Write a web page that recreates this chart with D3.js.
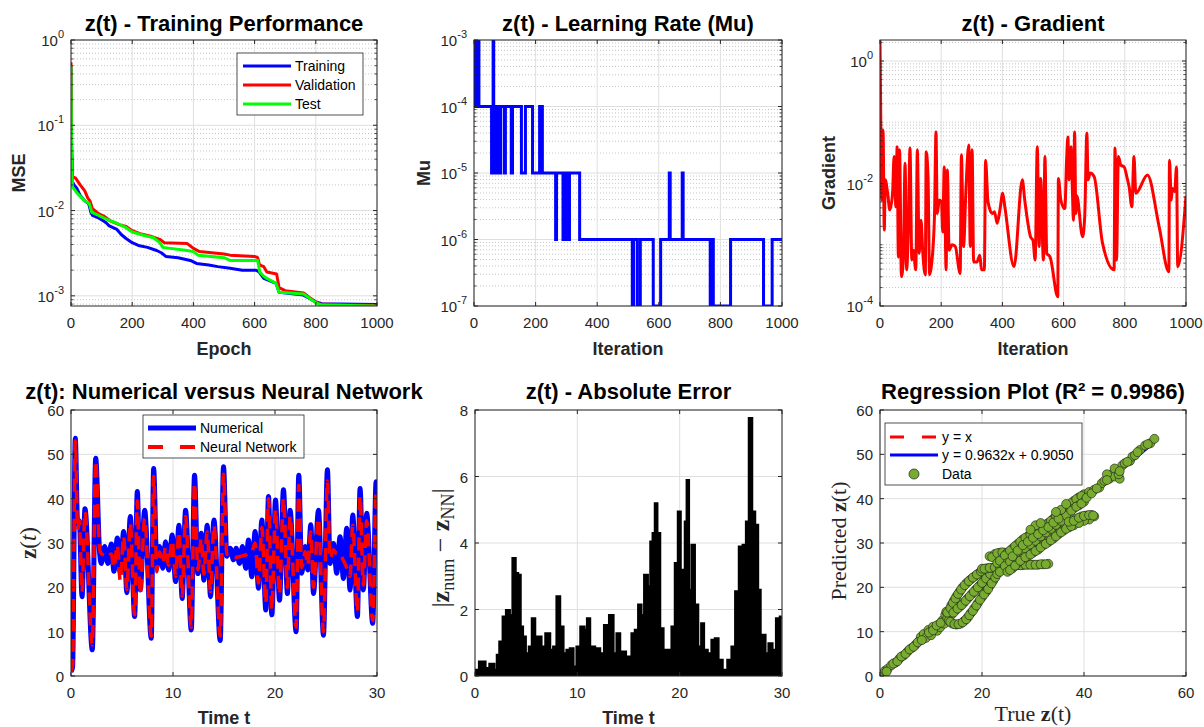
<!DOCTYPE html>
<html>
<head>
<meta charset="utf-8">
<script src="https://cdn.jsdelivr.net/npm/d3@7"></script>
<style>
  body { margin: 0; background: #fff; }
  svg { display: block; font-family: "Liberation Sans", Arial, Helvetica, sans-serif; }
</style>
</head>
<body>
<script>
// ---------- data ----------
// training performance (epoch, MSE)
const mseTraining = [[0,0.5],[2,0.05],[4,0.022],[10,0.02],[20,0.018],[30,0.015],[45,0.013],[58,0.012],[65,0.0095],[70,0.0088],[90,0.0082],[100,0.0078],[115,0.0072],[125,0.0066],[150,0.006],[165,0.0052],[180,0.0047],[200,0.0042],[220,0.0039],[250,0.0037],[280,0.0034],[295,0.0032],[310,0.0029],[350,0.0028],[390,0.0026],[410,0.0024],[450,0.0023],[480,0.0022],[520,0.0021],[560,0.002],[605,0.002],[615,0.0019],[630,0.0016],[670,0.0014],[680,0.0011],[760,0.00102],[800,0.00085],[820,0.00081],[1000,0.00079]];
const mseValidation = [[0,0.55],[2,0.06],[5,0.025],[15,0.024],[30,0.02],[45,0.017],[55,0.014],[62,0.013],[70,0.0105],[90,0.0092],[110,0.0085],[130,0.0075],[160,0.0068],[180,0.0065],[200,0.0058],[230,0.0053],[260,0.005],[290,0.0046],[305,0.0042],[380,0.0041],[400,0.0036],[420,0.0033],[500,0.0031],[520,0.003],[600,0.0029],[610,0.0028],[616,0.0023],[630,0.0022],[640,0.0019],[672,0.0018],[680,0.00125],[700,0.00115],[760,0.00108],[780,0.00095],[810,0.0008],[1000,0.00077]];
const mseTest = [[0,0.5],[2,0.04],[5,0.019],[20,0.016],[45,0.013],[60,0.012],[68,0.0095],[90,0.0088],[120,0.0078],[150,0.0071],[180,0.0063],[200,0.0056],[240,0.0051],[270,0.0048],[290,0.0042],[300,0.0037],[380,0.0034],[400,0.0033],[415,0.003],[500,0.0028],[520,0.0026],[610,0.0026],[617,0.0019],[630,0.0017],[640,0.0016],[670,0.0014],[680,0.0011],[760,0.00105],[800,0.00083],[820,0.00078],[1000,0.00076]];

// learning rate mu (iteration where value starts, value)
const muSteps = [[0,1e-4],[2,1e-3],[4,1e-4],[5,1e-3],[8,1e-4],[9,1e-3],[12,1e-4],[13,1e-3],[16,1e-4],[57,1e-5],[60,1e-4],[62,1e-3],[64,1e-4],[66,1e-5],[69,1e-4],[72,1e-5],[76,1e-4],[79,1e-5],[83,1e-4],[85,1e-5],[87,1e-4],[99,1e-5],[102,1e-4],[121,1e-5],[125,1e-4],[154,1e-5],[167,1e-4],[190,1e-5],[213,1e-4],[216,1e-5],[218,1e-4],[222,1e-5],[265,1e-6],[268,1e-5],[289,1e-6],[293,1e-5],[300,1e-6],[303,1e-5],[307,1e-6],[310,1e-5],[343,1e-6],[514,1e-7],[518,1e-6],[530,1e-7],[540,1e-6],[582,1e-7],[606,1e-6],[634,1e-5],[637,1e-6],[676,1e-5],[679,1e-6],[767,1e-7],[770,1e-6],[772,1e-7],[775,1e-6],[777,1e-7],[833,1e-6],[940,1e-7],[968,1e-6],[1000,1e-6]];

// gradient (iteration, log10 of gradient)
const gradientExp = [[0,0.34],[3,-1.18],[6,-2.27],[10,-1.13],[14,-2.76],[17,-1.94],[25,-2.16],[32,-2.43],[41,-2.16],[46,-1.56],[52,-2.38],[56,-1.4],[60,-3.2],[64,-1.45],[70,-3.52],[76,-3.25],[82,-1.67],[87,-3.41],[93,-2.65],[98,-1.42],[104,-3.25],[109,-3.09],[117,-3.41],[122,-1.45],[128,-3.14],[134,-2.6],[140,-3.14],[148,-3.49],[151,-1.48],[157,-1.89],[162,-3.49],[169,-3.3],[178,-2.54],[183,-1.16],[187,-2.49],[194,-2.27],[201,-2.3],[205,-2.79],[210,-1.73],[216,-3.41],[220,-1.78],[226,-3.09],[235,-3.0],[246,-3.03],[262,-3.47],[266,-1.53],[273,-3.03],[281,-2.08],[290,-1.37],[295,-3.03],[301,-1.45],[306,-3.28],[317,-3.28],[326,-3.17],[332,-3.41],[341,-3.41],[345,-1.62],[353,-2.3],[367,-2.49],[374,-2.46],[383,-2.65],[392,-2.43],[401,-2.16],[408,-2.38],[438,-3.36],[465,-1.94],[473,-2.27],[492,-2.87],[500,-2.93],[507,-3.25],[514,-1.4],[520,-3.03],[525,-1.92],[534,-3.25],[539,-1.56],[545,-3.14],[556,-3.2],[581,-3.85],[583,-1.92],[591,-2.27],[604,-2.41],[610,-1.59],[614,-1.24],[618,-1.94],[624,-1.4],[629,-2.16],[632,-2.6],[636,-1.16],[640,-2.49],[643,-2.2],[662,-2.87],[669,-2.54],[676,-1.18],[680,-1.94],[687,-1.83],[700,-1.89],[727,-2.97],[765,-3.41],[768,-1.42],[773,-3.25],[779,-1.56],[787,-1.7],[798,-1.73],[808,-1.92],[814,-2.05],[823,-2.38],[830,-1.56],[836,-2.16],[874,-1.86],[912,-2.7],[944,-3.44],[946,-1.62],[952,-2.27],[955,-2.08],[963,-2.13],[969,-1.73],[973,-3.36],[1000,-2.2]];

// z(t): numerical solution and neural network output (time, z)
const zNumerical = [[0,1],[0.16,2],[0.42,53.6],[0.65,34.4],[0.82,35],[1.08,17.9],[1.37,37.7],[2.09,5.9],[2.42,49.1],[2.81,27.7],[2.97,25.4],[3.3,29.2],[3.62,25.4],[3.95,29.8],[4.21,23.6],[4.54,31.1],[4.83,23.3],[5.16,32.6],[5.48,18.8],[5.81,36],[6.24,13.4],[6.5,41.6],[6.79,19.4],[7.22,37.4],[7.87,8.5],[8.1,46.8],[8.42,24.6],[8.68,29.2],[9.01,24.3],[9.27,30.3],[9.57,23.9],[9.92,31.8],[10.25,21.3],[10.58,34],[10.9,17.5],[11.23,37.4],[11.79,10.4],[12.11,45.3],[12.44,23.1],[12.77,32.2],[13.03,21.6],[13.35,34],[13.68,17.9],[14.01,35.2],[14.63,8],[14.95,47.2],[15.28,27],[15.61,28.8],[15.93,26.2],[16.19,28.8],[16.52,25.4],[16.81,29.2],[17.14,24.3],[17.4,30.7],[17.73,22.4],[18.05,32.6],[18.38,19.8],[18.71,35.2],[19.1,14.9],[19.36,40.5],[19.69,13.8],[20.05,39.7],[20.44,17.1],[20.83,42],[21.22,18.6],[21.48,37.4],[22.07,10],[22.33,45.3],[22.62,23.2],[22.95,29.2],[23.21,23.9],[23.51,34.1],[23.77,18.6],[24.26,37.4],[24.75,9.2],[25.14,46.5],[25.4,25.4],[25.73,29.9],[26.05,23.2],[26.38,31.4],[26.71,22],[27.03,33.3],[27.36,19.4],[27.62,36.3],[28.08,13.4],[28.34,42.3],[28.66,19.4],[28.99,36.7],[29.58,11.9],[29.91,43.8],[30,30]];
const zNeural = [[0,1],[0.16,2.5],[0.42,53],[0.65,33],[0.82,35],[1.08,19],[1.37,37],[2.09,7],[2.42,48.5],[2.81,28.5],[2.97,27.6],[3.3,27.2],[3.62,26.8],[3.95,27.5],[4.21,24.5],[4.54,29.5],[4.83,21.5],[5.16,31.5],[5.48,19.5],[5.81,34.5],[6.24,13.8],[6.5,39.5],[6.79,18.5],[7.22,35.5],[7.87,9],[8.1,45],[8.42,23.5],[8.68,28],[9.01,25.5],[9.27,29],[9.57,25],[9.92,30.5],[10.25,22.5],[10.58,32.5],[10.9,18],[11.23,36],[11.79,11],[12.11,43.5],[12.44,24],[12.77,31],[13.03,23],[13.35,32.5],[13.68,19],[14.01,34],[14.63,9],[14.95,45.5],[15.28,27.5],[15.61,27.2],[15.93,27],[16.19,26.8],[16.52,26.9],[16.81,27.1],[17.14,27.3],[17.4,27.6],[17.73,28],[18.05,30],[18.38,21],[18.71,33.5],[19.1,16.5],[19.36,40],[19.69,15],[20.05,37.5],[20.44,18.5],[20.83,40],[21.22,20],[21.48,36],[22.07,11],[22.33,43],[22.62,24.5],[22.95,28],[23.21,25],[23.51,32.5],[23.77,20],[24.26,35.5],[24.75,10],[25.14,44],[25.4,26.5],[25.73,28.5],[26.05,27.5],[26.38,27.5],[26.71,26],[27.03,24.5],[27.36,22.5],[27.62,34],[28.08,14.5],[28.34,40.5],[28.66,20.5],[28.99,35],[29.58,12.5],[29.91,41.5],[30,28]];

// absolute error envelope (time, |z_num - z_NN|)
const absError = [[0,0.18],[0.81,0.43],[1.21,0.23],[1.63,0.36],[2.12,0.18],[2.18,0.63],[2.61,1.03],[2.83,1.78],[3.26,1.98],[3.52,1.83],[3.84,3.54],[4.07,3.09],[4.33,3.04],[4.56,1.48],[4.79,1.18],[5.11,0.68],[5.44,0.88],[5.7,1.73],[6.03,1.18],[6.35,1.18],[6.61,0.88],[7.17,1.28],[7.49,0.78],[7.82,0.88],[8.14,2.39],[8.47,1.48],[8.79,0.68],[9.12,0.78],[9.45,0.83],[9.77,0.28],[10.1,0.88],[10.52,1.48],[10.85,1.38],[11.07,1.73],[11.4,0.88],[12.05,0.83],[12.38,0.68],[12.87,1.53],[13.36,1.83],[13.68,0.68],[14.01,1.28],[14.33,0.73],[15.15,0.58],[15.47,1.28],[15.8,1.38],[16.12,2.14],[16.38,1.83],[16.71,3.04],[17.04,2.69],[17.26,4.04],[17.49,4.29],[17.69,5.19],[17.92,4.29],[18.24,1.43],[18.57,0.78],[19.06,0.78],[19.38,1.48],[19.71,3.39],[19.97,4.94],[20.2,3.19],[20.42,3.09],[20.62,4.64],[20.78,5.89],[21.01,2.59],[21.34,3.94],[21.6,2.14],[21.99,0.88],[22.25,1.58],[22.48,0.78],[22.96,0.68],[23.29,1.08],[23.62,1.13],[23.94,0.48],[24.43,0.18],[24.92,0.48],[25.24,0.88],[25.64,2.54],[25.96,3.89],[26.38,3.94],[26.61,4.64],[26.94,7.75],[27.2,4.94],[27.52,4.54],[27.78,2.59],[28.01,1.18],[28.24,1.23],[28.5,0.68],[28.89,0.98],[29.22,0.78],[29.64,1.73],[29.97,1.78]];

// regression scatter (true z, predicted z)
const regressionPoints = [[0.6,0.5],[1,1.2],[1.5,1.6],[2.2,2.4],[3,3],[3.8,3.9],[4.6,4.6],[5.4,5.5],[6.2,6.3],[7,7.1],[7.8,8],[8.5,8.4],[9.2,9.4],[10,10],[10.8,10.9],[11.5,11.6],[12.2,12.5],[8,8.8],[8.6,9.5],[9.5,10.4],[10.4,11.1],[11.2,10.2],[9,8.6],[10,9.2],[11.8,11],[12.6,11.8],
[1.3,1.0],[2.6,2.8],[3.4,3.3],[4.2,4.4],[5,5],[5.8,6],[6.6,6.6],[7.4,7.6],[8.2,8.1],[9.6,9.8],[10.4,10.3],[11.1,11.4],[11.9,12],
[12.8,13.8],[13.5,14.8],[14,16],[14.5,17],[15,18],[15.6,19],[16.2,20],[17,21],[17.8,21.8],[18.6,22.5],[19.4,23.2],[13.2,13],[14,13.8],[14.8,14.8],[15.6,15.6],[16.4,16.5],[17.2,17.5],[18,18.5],[18.8,19.5],[19.6,20.5],[20.4,21.5],[21.2,22.5],[22,23.5],[13.5,12.5],[14.2,11.8],[15,11.6],[15.8,11.8],[16.5,12.4],[17.2,13.2],[17.8,14.2],[18.5,15.3],[19.2,16.5],[20,17.8],[20.8,19],[21.5,20.3],[22.2,21.5],[13,14.5],[14,15.5],
[13.2,14.3],[13.8,15.3],[14.3,16.5],[14.8,17.5],[15.3,18.5],[15.9,19.5],[16.6,20.5],[17.4,21.4],[18.2,22.2],[19,22.9],[19.8,23.6],[14.4,14.3],[15.2,15.2],[16,16],[16.8,17],[17.6,18],[18.4,19],[19.2,20],[20,21],[20.8,22],[21.6,23],[13.8,12.2],[14.6,11.7],[15.4,11.7],[16.2,12.1],[16.9,12.8],[17.5,13.7],[18.2,14.7],[18.9,15.9],[19.6,17.2],[20.4,18.4],[21.2,19.6],[21.9,20.9],[22.6,22.2],
[20,24.2],[21,24.3],[22,24.4],[23,24.6],[24,24.7],[25,24.8],[26,24.9],[27,25],[28,25],[29,25.1],[30,25.1],[31,25.1],[32,25.2],[33,25.3],[21.5,27],[22.5,27.5],[23.5,27.8],[24.5,27.8],[25.5,27.5],
[20.5,24.2],[21.5,24.4],[22.5,24.5],[23.5,24.6],[24.5,24.8],[25.5,24.9],[26.5,25],[27.5,25],[28.5,25.1],[29.5,25.1],[30.5,25.1],[31.5,25.2],[32.5,25.2],[22,26.8],[23,27.7],[24,27.9],[25,27.7],[26,27.2],
[23,25.5],[24,26.5],[25,27.8],[26,28.8],[27,29.8],[28,30.8],[29,31.5],[30,32.3],[31,33],[32,33.8],[33,34.5],[34,35.5],[35,36.5],[36,37.5],[37,38.5],[38,39.5],[39,40.3],[40,41],
[23.5,26],[24.5,27.2],[25.5,28.3],[26.5,29.3],[27.5,30.3],[28.5,31.2],[29.5,31.9],[30.5,32.7],[31.5,33.4],[32.5,34.2],[33.5,35],[34.5,36],[35.5,37],[36.5,38],[37.5,39],[38.5,39.9],[39.5,40.6],
[23,23],[24,24],[25,25.5],[26,26.2],[27,27.2],[28,28.3],[29,29.2],[30,30],[31,31],[32,32],[33,32.8],[34,33.7],[35,34.5],[36,35.5],[37,36.8],[38,37.8],[39,38.5],[40,39.3],
[23.5,23.5],[24.5,24.8],[25.5,25.8],[26.5,26.7],[27.5,27.7],[28.5,28.7],[29.5,29.6],[30.5,30.5],[31.5,31.5],[32.5,32.4],[33.5,33.2],[34.5,34.1],[35.5,35],[36.5,36.2],[37.5,37.3],[38.5,38.2],[39.5,38.9],
[25,23.5],[26,24.3],[27,25.5],[28,26.5],[29,27],[30,27.8],[31,28.5],[32,29.5],[33,30.2],[34,31],[35,32],[36,32.8],[37,33.5],[38,34],
[25.5,23.9],[26.5,24.9],[27.5,26],[28.5,26.8],[29.5,27.4],[30.5,28.2],[31.5,29],[32.5,29.8],[33.5,30.6],[34.5,31.5],[35.5,32.4],[36.5,33.2],[37.5,33.8],
[26,27],[27,28.3],[28,29.5],[29,30.3],[30,31.2],[31,32],[32,32.9],[33,33.6],[34,34.6],[35,35.5],
[38.5,35.5],[39.5,36],[40.5,36.2],[41.5,36.3],[42,36],[41,35.3],[40,35],[39,34.5],[37,34.8],[38,35],[39,35.7],[40,36.1],[41,36.3],[41.8,36.2],[30.5,34],[29.5,33],[31.5,34.5],[35.5,37.5],[36.5,38.8],[34.5,37],
[41,41.5],[42,42],[43,42.5],[43.5,43.5],[44,44],[45,44.5],[45.5,45.5],[46,45],[46.5,46.5],[47,44.5],[47.5,47.5],[48,48],[49,48.5],[49.5,49.5],[51,51],[52,52],[53,52.5],[53.8,53.5],[44.5,45.5],[46,46.8],[46.8,45.5],[47,46.2],
[40.5,40.2],[41.5,41.2],[42.5,42.3],[44.5,44.2],[48.5,48.3],[50,49.8],[50.5,50.5],[52.5,52.3]];
const fitSlope = 0.9632;
const fitIntercept = 0.9050;

// tick values
const iterTicks = [0, 200, 400, 600, 800, 1000];
const timeTicks = [0, 10, 20, 30];
const zTicks = [0, 10, 20, 30, 40, 50, 60];
const errTicks = [0, 2, 4, 6, 8];
const regXTicks = [0, 20, 40, 60];

// ---------- drawing ----------
const ink = "#262626";
const svg = d3.select("body").append("svg").attr("width", 1204).attr("height", 727);
const cols = [[71, 377], [474, 782], [880, 1186]];
const rows = [[40, 306], [410, 676]];
let clipCount = 0;

function makeAxes(col, row, xDomain, yDomain, yLog) {
  const [x0, x1] = cols[col], [y0, y1] = rows[row];
  const x = d3.scaleLinear().domain(xDomain).range([x0, x1]);
  const y = (yLog ? d3.scaleLog() : d3.scaleLinear()).domain(yDomain).range([y1, y0]);
  const g = svg.append("g");
  const id = "clip" + (clipCount++);
  svg.append("clipPath").attr("id", id).append("rect")
    .attr("x", x0).attr("y", y0).attr("width", x1 - x0).attr("height", y1 - y0);
  g.append("rect").attr("x", x0).attr("y", y0).attr("width", x1 - x0).attr("height", y1 - y0).attr("fill", "#fff");
  const grid = g.append("g");
  const plot = g.append("g").attr("clip-path", `url(#${id})`);
  const top = g.append("g");
  return { x, y, x0, x1, y0, y1, grid, plot, top };
}

// minor log values (m x 10^k) inside a domain
function logMinor(lo, hi) {
  const out = [];
  for (let k = Math.floor(Math.log10(lo)); k <= Math.ceil(Math.log10(hi)); k++) {
    for (let m = 1; m <= 9; m++) {
      const v = m * Math.pow(10, k);
      if (v >= lo && v <= hi) out.push(v);
    }
  }
  return out;
}

function drawGrid(a, xTicks, yTicks, yMinor) {
  if (yMinor) {
    a.grid.selectAll(null).data(yMinor).join("line")
      .attr("x1", a.x0).attr("x2", a.x1).attr("y1", d => a.y(d)).attr("y2", d => a.y(d))
      .attr("stroke", "#b8b8b8").attr("stroke-width", 0.8).attr("stroke-dasharray", "1,2");
  }
  a.grid.selectAll(null).data(xTicks).join("line")
    .attr("x1", d => a.x(d)).attr("x2", d => a.x(d)).attr("y1", a.y0).attr("y2", a.y1)
    .attr("stroke", "#dfdfdf").attr("stroke-width", 1);
  a.grid.selectAll(null).data(yTicks).join("line")
    .attr("x1", a.x0).attr("x2", a.x1).attr("y1", d => a.y(d)).attr("y2", d => a.y(d))
    .attr("stroke", "#dfdfdf").attr("stroke-width", 1);
}

function drawFrame(a, xTicks, yTicks, yMinor, yLabel) {
  const t = a.top;
  xTicks.forEach(v => {
    const px = a.x(v);
    t.append("line").attr("x1", px).attr("x2", px).attr("y1", a.y1).attr("y2", a.y1 - 4).attr("stroke", ink);
    t.append("line").attr("x1", px).attr("x2", px).attr("y1", a.y0).attr("y2", a.y0 + 4).attr("stroke", ink);
    t.append("text").attr("x", px).attr("y", a.y1 + 22).attr("text-anchor", "middle")
      .attr("font-size", 15).attr("fill", ink).text(v);
  });
  (yMinor || []).forEach(v => {
    const py = a.y(v);
    t.append("line").attr("x1", a.x0).attr("x2", a.x0 + 2.5).attr("y1", py).attr("y2", py).attr("stroke", ink).attr("stroke-width", 0.8);
    t.append("line").attr("x1", a.x1).attr("x2", a.x1 - 2.5).attr("y1", py).attr("y2", py).attr("stroke", ink).attr("stroke-width", 0.8);
  });
  yTicks.forEach(v => {
    const py = a.y(v);
    t.append("line").attr("x1", a.x0).attr("x2", a.x0 + 4).attr("y1", py).attr("y2", py).attr("stroke", ink);
    t.append("line").attr("x1", a.x1).attr("x2", a.x1 - 4).attr("y1", py).attr("y2", py).attr("stroke", ink);
    const txt = t.append("text").attr("x", a.x0 - 7).attr("y", py + 6).attr("text-anchor", "end")
      .attr("font-size", 15).attr("fill", ink);
    if (yLabel === "log") {
      txt.append("tspan").text("10");
      txt.append("tspan").attr("dy", -8).attr("font-size", 11).text(Math.round(Math.log10(v)));
    } else {
      txt.text(v);
    }
  });
  t.append("rect").attr("x", a.x0).attr("y", a.y0).attr("width", a.x1 - a.x0).attr("height", a.y1 - a.y0)
    .attr("fill", "none").attr("stroke", ink).attr("stroke-width", 1);
}

function title(a, text, y) {
  svg.append("text").attr("x", (a.x0 + a.x1) / 2).attr("y", y).attr("text-anchor", "middle")
    .attr("font-size", 22).attr("font-weight", "bold").attr("fill", "#000").text(text);
}
function xLabel(a, text, y) {
  svg.append("text").attr("x", (a.x0 + a.x1) / 2).attr("y", y).attr("text-anchor", "middle")
    .attr("font-size", 18).attr("font-weight", "bold").attr("fill", ink).text(text);
}
function yLabel(x, y, text) {
  svg.append("text").attr("transform", `translate(${x},${y}) rotate(-90)`).attr("text-anchor", "middle")
    .attr("font-size", 18).attr("font-weight", "bold").attr("fill", ink).text(text);
}

function legend(x, y, w, h, items) {
  const g = svg.append("g");
  g.append("rect").attr("x", x).attr("y", y).attr("width", w).attr("height", h)
    .attr("fill", "#fff").attr("stroke", ink).attr("stroke-width", 0.8);
  items.forEach(it => {
    if (it.marker) {
      g.append("circle").attr("cx", it.lx + 24).attr("cy", it.y).attr("r", 5)
        .attr("fill", "#77AC30").attr("stroke", "#1a1a1a").attr("stroke-width", 0.7);
    } else {
      g.append("line").attr("x1", it.lx).attr("x2", it.lx + 48).attr("y1", it.y).attr("y2", it.y)
        .attr("stroke", it.color).attr("stroke-width", it.width || 3)
        .attr("stroke-dasharray", it.dash || null);
    }
    g.append("text").attr("x", it.tx).attr("y", it.y + 5).attr("font-size", 14).attr("fill", "#000").text(it.label);
  });
}

// ----- panel 1: training performance -----
{
  const a = makeAxes(0, 0, [0, 1000], [0.00076, 1], true);
  const dec = [1e-3, 1e-2, 1e-1, 1];
  const minor = logMinor(0.00076, 1).filter(v => !dec.includes(v));
  drawGrid(a, iterTicks, dec, minor);
  const line = d3.line().x(d => a.x(d[0])).y(d => a.y(d[1]));
  [[mseTraining, "#0000ff"], [mseValidation, "#ff0000"], [mseTest, "#00ff00"]].forEach(([d, c]) => {
    a.plot.append("path").datum(d).attr("d", line).attr("fill", "none").attr("stroke", c)
      .attr("stroke-width", 3).attr("stroke-linejoin", "round");
  });
  drawFrame(a, iterTicks, dec, minor, "log");
  title(a, "z(t) - Training Performance", 31);
  xLabel(a, "Epoch", 355);
  yLabel(25, 173, "MSE");
  legend(237, 53, 126, 62, [
    { label: "Training", color: "#0000ff", y: 66, lx: 243, tx: 295 },
    { label: "Validation", color: "#ff0000", y: 85, lx: 243, tx: 295 },
    { label: "Test", color: "#00ff00", y: 104, lx: 243, tx: 295 }
  ]);
}

// ----- panel 2: learning rate -----
{
  const a = makeAxes(1, 0, [0, 1000], [1e-7, 1e-3], true);
  const dec = [1e-7, 1e-6, 1e-5, 1e-4, 1e-3];
  const minor = logMinor(1e-7, 1e-3).filter(v => !dec.some(d => Math.abs(d - v) / d < 1e-9));
  drawGrid(a, iterTicks, dec, minor);
  const line = d3.line().curve(d3.curveStepAfter).x(d => a.x(d[0])).y(d => a.y(d[1]));
  a.plot.append("path").datum(muSteps).attr("d", line).attr("fill", "none").attr("stroke", "#0000ff")
    .attr("stroke-width", 3);
  drawFrame(a, iterTicks, dec, minor, "log");
  title(a, "z(t) - Learning Rate (Mu)", 31);
  xLabel(a, "Iteration", 355);
  yLabel(430, 173, "Mu");
}

// ----- panel 3: gradient -----
{
  const top = Math.pow(10, 0.343);
  const a = makeAxes(2, 0, [0, 1000], [1e-4, top], true);
  const labeled = [1e-4, 1e-2, 1];
  const minor = logMinor(1e-4, top).filter(v => !labeled.some(d => Math.abs(d - v) / d < 1e-9));
  drawGrid(a, iterTicks, labeled, minor);
  const line = d3.line().curve(d3.curveMonotoneX).x(d => a.x(d[0])).y(d => a.y(Math.pow(10, d[1])));
  a.plot.append("path").datum(gradientExp).attr("d", line).attr("fill", "none").attr("stroke", "#ff0000")
    .attr("stroke-width", 3).attr("stroke-linejoin", "round");
  drawFrame(a, iterTicks, labeled, minor, "log");
  title(a, "z(t) - Gradient", 31);
  xLabel(a, "Iteration", 355);
  yLabel(835, 173, "Gradient");
}

// ----- panel 4: numerical vs neural network -----
{
  const a = makeAxes(0, 1, [0, 30], [0, 60], false);
  drawGrid(a, timeTicks, zTicks);
  const line = d3.line().curve(d3.curveMonotoneX).x(d => a.x(d[0])).y(d => a.y(d[1]));
  a.plot.append("path").datum(zNumerical).attr("d", line).attr("fill", "none").attr("stroke", "#0000ff")
    .attr("stroke-width", 5).attr("stroke-linejoin", "round");
  a.plot.append("path").datum(zNeural).attr("d", line).attr("fill", "none").attr("stroke", "#ff0000")
    .attr("stroke-width", 3.5).attr("stroke-dasharray", "13,7").attr("stroke-linejoin", "round");
  drawFrame(a, timeTicks, zTicks);
  title(a, "z(t): Numerical versus Neural Network", 399);
  xLabel(a, "Time t", 724);
  const lab = svg.append("text").attr("transform", "translate(36,543) rotate(-90)").attr("text-anchor", "middle")
    .attr("font-family", "'Liberation Serif', 'Times New Roman', serif").attr("font-size", 23).attr("fill", ink);
  lab.append("tspan").attr("font-weight", "bold").text("z");
  lab.append("tspan").text("(");
  lab.append("tspan").attr("font-style", "italic").text("t");
  lab.append("tspan").text(")");
  legend(143, 415, 161, 43, [
    { label: "Numerical", color: "#0000ff", y: 428, lx: 148, tx: 200, width: 5 },
    { label: "Neural Network", color: "#ff0000", y: 447, lx: 148, tx: 200, width: 4, dash: "15,17" }
  ]);
}

// ----- panel 5: absolute error -----
{
  const a = makeAxes(1, 1, [0, 30], [0, 8], false);
  a.x.range([475, 782]);
  a.x0 = 475;
  drawGrid(a, timeTicks, errTicks);
  const area = d3.area().curve(d3.curveStep).x(d => a.x(d[0])).y0(a.y(0)).y1(d => a.y(d[1]));
  const line = d3.line().curve(d3.curveStep).x(d => a.x(d[0])).y(d => a.y(d[1]));
  a.plot.append("path").datum(absError).attr("d", area).attr("fill", "#000");
  a.plot.append("path").datum(absError).attr("d", line).attr("fill", "none").attr("stroke", "#000")
    .attr("stroke-width", 2.5).attr("stroke-linejoin", "miter");
  drawFrame(a, timeTicks, errTicks);
  title(a, "z(t) - Absolute Error", 399);
  xLabel(a, "Time t", 724);
  const lab = svg.append("text").attr("transform", "translate(449,548) rotate(-90)").attr("text-anchor", "middle")
    .attr("font-family", "'Liberation Serif', 'Times New Roman', serif").attr("font-size", 26).attr("fill", ink);
  lab.append("tspan").text("|");
  lab.append("tspan").attr("font-weight", "bold").text("z");
  lab.append("tspan").attr("font-size", 18).attr("dy", 5).text("num");
  lab.append("tspan").attr("dy", -5).text(" \u2212 ");
  lab.append("tspan").attr("font-weight", "bold").text("z");
  lab.append("tspan").attr("font-size", 18).attr("dy", 5).text("NN");
  lab.append("tspan").attr("dy", -5).text("|");
}

// ----- panel 6: regression -----
{
  const a = makeAxes(2, 1, [0, 60], [0, 60], false);
  drawGrid(a, regXTicks, zTicks);
  const xs = d3.extent(regressionPoints, d => d[0]);
  const identity = xs.map(v => [v, v]);
  const fit = xs.map(v => [v, fitSlope * v + fitIntercept]);
  const line = d3.line().x(d => a.x(d[0])).y(d => a.y(d[1]));
  a.plot.append("path").datum(identity).attr("d", line).attr("stroke", "#ff0000").attr("stroke-width", 2.5)
    .attr("stroke-dasharray", "9,6").attr("fill", "none");
  a.plot.append("path").datum(fit).attr("d", line).attr("stroke", "#0000ff").attr("stroke-width", 2.5).attr("fill", "none");
  a.plot.selectAll(null).data(regressionPoints).join("circle")
    .attr("cx", d => a.x(d[0])).attr("cy", d => a.y(d[1])).attr("r", 4.5)
    .attr("fill", "#77AC30").attr("stroke", "#1a1a1a").attr("stroke-width", 0.6);
  drawFrame(a, regXTicks, zTicks);
  title(a, "Regression Plot (R\u00B2 = 0.9986)", 399);
  const xl = svg.append("text").attr("x", 1033).attr("y", 721).attr("text-anchor", "middle")
    .attr("font-family", "'Liberation Serif', 'Times New Roman', serif").attr("font-size", 22).attr("fill", ink);
  xl.append("tspan").text("True ");
  xl.append("tspan").attr("font-weight", "bold").text("z");
  xl.append("tspan").text("(t)");
  const yl = svg.append("text").attr("transform", "translate(846,541) rotate(-90)").attr("text-anchor", "middle")
    .attr("font-family", "'Liberation Serif', 'Times New Roman', serif").attr("font-size", 22).attr("fill", ink);
  yl.append("tspan").text("Predicted ");
  yl.append("tspan").attr("font-weight", "bold").text("z");
  yl.append("tspan").text("(t)");
  legend(885, 423, 197, 62, [
    { label: "y = x", color: "#ff0000", y: 437, lx: 890, tx: 942, dash: "14,18" },
    { label: "y = 0.9632x + 0.9050", color: "#0000ff", y: 455, lx: 890, tx: 942 },
    { label: "Data", marker: true, y: 474, lx: 890, tx: 942 }
  ]);
}
</script>
</body>
</html>
